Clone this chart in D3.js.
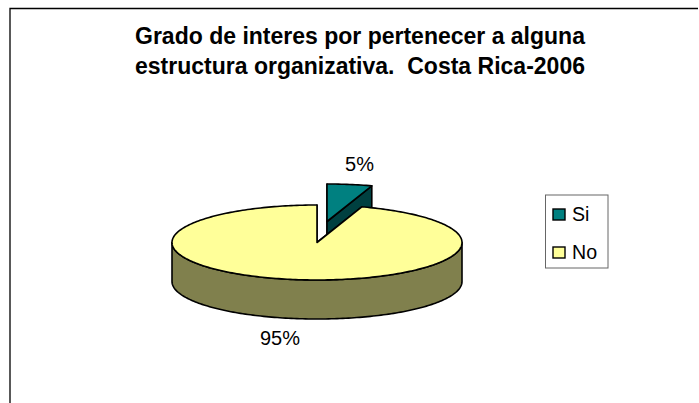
<!DOCTYPE html>
<html>
<head>
<meta charset="utf-8">
<script src="https://cdn.jsdelivr.net/npm/d3@7"></script>
<style>
  html, body { margin: 0; padding: 0; background: #fff; overflow: hidden; }
  svg { display: block; font-family: "Liberation Sans", Arial, sans-serif; }
</style>
</head>
<body>
<div id="chart"></div>
<script>
const Width = 699;
const Height = 403;

const categories = ['Si', 'No'];
const percentages = [5, 95];
const percentLabels = ['5%', '95%'];
const titleLines = ['Grado de interes por pertenecer a alguna', 'estructura organizativa.  Costa Rica-2006'];

const topColors = ['#008080', '#FFFF99'];
const sideColors = ['#004040', '#80804D'];

// tilted pie geometry
const CX = 317;
const CY = 242.5;
const RX = 145;
const RY = 37.5;
const Depth = 39;
const ExplodeX = 10;
const ExplodeY = -21;

const svg = d3.select('#chart').append('svg')
  .attr('width', Width)
  .attr('height', Height);

// chart frame, the right and bottom are cut off in the picture
svg.append('path')
  .attr('d', 'M10,' + Height + 'V8.5H698')
  .attr('fill', 'none')
  .attr('stroke', '#000')
  .attr('stroke-width', 1.3);

svg.append('g').selectAll('text')
  .data(titleLines)
  .enter()
  .append('text')
  .attr('x', 360)
  .attr('y', (d, i) => 44 + i * 29.5)
  .attr('text-anchor', 'middle')
  .attr('font-size', 23)
  .attr('font-weight', 'bold')
  .style('white-space', 'pre')
  .text(d => d);

const slices = d3.pie().sort(null)(percentages);

// point on the rim of the tilted disc, angle clockwise from 12 o'clock
const rim = (a, ox, oy, dz) => [ox + RX * Math.sin(a), oy - RY * Math.cos(a) + dz];
const arcPoints = (a0, a1, ox, oy, dz) => {
  const n = Math.max(2, Math.ceil(Math.abs(a1 - a0) / 0.02));
  return d3.range(n + 1).map(i => rim(a0 + (a1 - a0) * i / n, ox, oy, dz));
};
const line = d3.line();

function drawSlice(d, i, ox, oy) {
  const g = svg.append('g')
    .attr('stroke', '#000')
    .attr('stroke-width', 1.6)
    .attr('stroke-linejoin', 'round');

  // cut faces first, then the outer wall for the part of the rim facing us
  const apex = [ox, oy];
  [d.startAngle, d.endAngle].forEach(a => {
    const p = rim(a, ox, oy, 0);
    const face = [apex, p, [p[0], p[1] + Depth], [apex[0], apex[1] + Depth]];
    g.append('path').attr('d', line(face) + 'Z').attr('fill', sideColors[i]);
  });

  const a0 = Math.max(d.startAngle, Math.PI / 2);
  const a1 = Math.min(d.endAngle, Math.PI * 1.5);
  if (a1 > a0) {
    const wall = arcPoints(a0, a1, ox, oy, 0).concat(arcPoints(a1, a0, ox, oy, Depth));
    g.append('path').attr('d', line(wall) + 'Z').attr('fill', sideColors[i]);
  }

  const top = [apex].concat(arcPoints(d.startAngle, d.endAngle, ox, oy, 0));
  g.append('path').attr('d', line(top) + 'Z').attr('fill', topColors[i]);
}

drawSlice(slices[0], 0, CX + ExplodeX, CY + ExplodeY);
drawSlice(slices[1], 1, CX, CY);

// percent labels
svg.append('text').attr('x', 359.5).attr('y', 171)
  .attr('text-anchor', 'middle').attr('font-size', 20).text(percentLabels[0]);
svg.append('text').attr('x', 280).attr('y', 345)
  .attr('text-anchor', 'middle').attr('font-size', 20).text(percentLabels[1]);

// legend box
svg.append('rect')
  .attr('x', 545.5)
  .attr('y', 195)
  .attr('width', 62.5)
  .attr('height', 73)
  .attr('fill', '#fff')
  .attr('stroke', '#666')
  .attr('stroke-width', 1);

const legend = svg.selectAll('.legend')
  .data(categories)
  .enter()
  .append('g')
  .attr('class', 'legend')
  .attr('transform', (d, i) => 'translate(553,' + (209 + i * 38) + ')');

legend.append('rect')
  .attr('width', 12)
  .attr('height', 11)
  .attr('fill', (d, i) => topColors[i])
  .attr('stroke', '#000')
  .attr('stroke-width', 1.4);

legend.append('text')
  .attr('x', 19)
  .attr('y', 11.5)
  .attr('font-size', 19.6)
  .text(d => d);
</script>
</body>
</html>
